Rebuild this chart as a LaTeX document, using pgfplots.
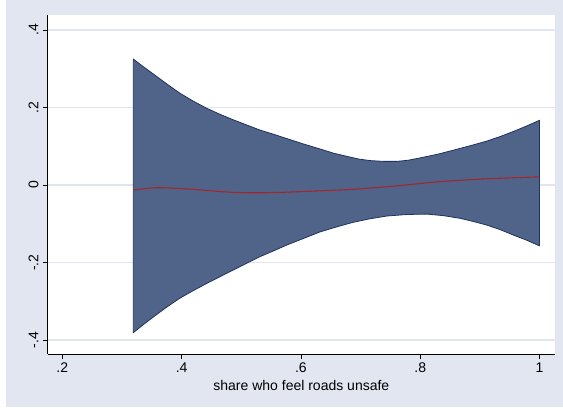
\documentclass[border=0pt]{standalone}
\usepackage{fontspec}
\setmainfont{Liberation Sans}
\usepackage{pgfplots}
\pgfplotsset{compat=1.18}
\definecolor{bgc}{RGB}{225,230,240}
\definecolor{gridc}{RGB}{224,229,240}
\definecolor{bandc}{RGB}{80,99,137}
\definecolor{edgec}{RGB}{30,50,95}
\definecolor{fitc}{RGB}{160,40,45}
\pgfplotsset{
  layers/mylayers/.define layer set={
    bglayer,axis background,axis grid,axis ticks,axis lines,axis tick labels,
    pre main,main,axis descriptions,axis foreground}{},
}
\begin{document}
\begin{tikzpicture}
\begin{axis}[
  set layers=mylayers,
  scale only axis,
  width=507.3pt, height=339pt,
  xmin=0.1755, xmax=1.026, ymin=-0.436, ymax=0.4387,
  axis x line*=bottom, axis y line*=left,
  axis line style={black, line width=0.9pt},
  axis background/.style={fill=white},
  tick align=outside,
  major tick length=5pt,
  tick style={black, line width=0.7pt},
  xtick={0.2,0.4,0.6,0.8,1},
  xticklabels={.2,.4,.6,.8,1},
  ytick={-0.4,-0.2,0,0.2,0.4},
  yticklabels={-.4,-.2,0,.2,.4},
  yticklabel style={rotate=90, anchor=south, inner sep=4pt},
  xticklabel style={inner sep=4pt},
  tick label style={font=\fontsize{14}{16}\selectfont},
  label style={font=\fontsize{14}{16}\selectfont},
  xlabel={share who feel roads unsafe},
  xlabel style={at={(axis description cs:0.5,0)}, anchor=north, yshift=-26pt, inner sep=0pt},
  ymajorgrids,
  major grid style={gridc, line width=1.2pt},
  clip=false,
]
\begin{pgfonlayer}{bglayer}
\fill[white] ([xshift=-47.7pt,yshift=-58pt]rel axis cs:0,0) rectangle ([xshift=8pt,yshift=15pt]rel axis cs:1,1);
\fill[bgc] ([xshift=-41.7pt,yshift=-53pt]rel axis cs:0,0) rectangle ([xshift=8pt,yshift=15pt]rel axis cs:1,1);
\end{pgfonlayer}
% confidence band: upper edge left to right, then lower edge right to left
\addplot[fill=bandc, draw=edgec, line width=0.8pt, line join=round] coordinates {
(0.319,0.325) (0.336,0.305) (0.353,0.286) (0.375,0.261) (0.397,0.237)
(0.420,0.216) (0.442,0.198) (0.465,0.182) (0.487,0.168) (0.509,0.155)
(0.531,0.142) (0.554,0.131) (0.576,0.120) (0.604,0.106) (0.632,0.093)
(0.655,0.082) (0.677,0.074) (0.697,0.067) (0.716,0.063) (0.738,0.061)
(0.761,0.061) (0.780,0.064) (0.800,0.070) (0.828,0.079) (0.856,0.090)
(0.883,0.101) (0.911,0.113) (0.934,0.125) (0.956,0.138) (0.978,0.152)
(1.000,0.167)
(1.000,-0.157) (0.978,-0.142) (0.956,-0.129) (0.934,-0.115) (0.911,-0.103)
(0.889,-0.094) (0.867,-0.086) (0.839,-0.079) (0.811,-0.075) (0.778,-0.076)
(0.744,-0.080) (0.716,-0.087) (0.688,-0.096) (0.660,-0.108) (0.632,-0.121)
(0.604,-0.138) (0.576,-0.155) (0.554,-0.170) (0.531,-0.185) (0.509,-0.202)
(0.487,-0.219) (0.465,-0.236) (0.442,-0.254) (0.420,-0.272) (0.397,-0.292)
(0.375,-0.315) (0.353,-0.340) (0.336,-0.360) (0.319,-0.381)
} -- cycle;
\addplot[fitc, line width=1.1pt, smooth] coordinates {
(0.319,-0.013) (0.358,-0.007) (0.409,-0.010) (0.476,-0.018) (0.520,-0.020)
(0.565,-0.019) (0.632,-0.015) (0.688,-0.011) (0.755,-0.003) (0.828,0.008)
(0.911,0.016) (1.000,0.021)};
\end{axis}
\end{tikzpicture}
\end{document}
